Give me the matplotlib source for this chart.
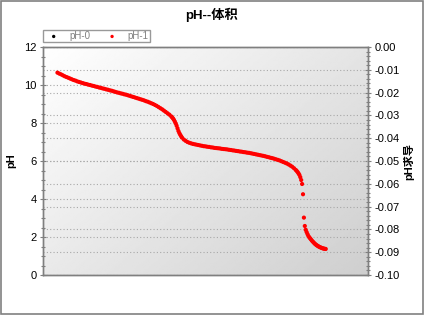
import numpy as np
import matplotlib
matplotlib.use("Agg")
import matplotlib.pyplot as plt
from matplotlib.ticker import MultipleLocator, FuncFormatter
from matplotlib.patches import Rectangle

plt.rcParams['font.family'] = ['Liberation Sans', 'Noto Sans CJK SC', 'DejaVu Sans']
plt.rcParams['axes.unicode_minus'] = False

title = "pH--体积"
xlabel = "溶液体积/ml"
ylabel_left = "pH"
ylabel_right = "pH求导"
series0_label = "pH-0"
series1_label = "pH-1"

volume = [0.8, 0.9, 1.0, 1.1, 1.2, 1.3, 1.4, 1.5, 1.6, 1.7, 1.8, 1.9, 2.0, 2.1, 2.2, 2.3,
          2.4, 2.5, 2.6, 2.7, 2.8, 2.9, 3.0, 3.1, 3.2, 3.3, 3.4, 3.5, 3.6, 3.7, 3.8, 3.9,
          4.0, 4.1, 4.2, 4.3, 4.4, 4.5, 4.6, 4.7, 4.8, 4.9, 5.0, 5.1, 5.2, 5.3, 5.4, 5.5,
          5.6, 5.7, 5.8, 5.9, 6.0, 6.1, 6.2, 6.3, 6.4, 6.5, 6.6, 6.7, 6.8, 6.9, 7.0,
          7.1, 7.15, 7.2, 7.25, 7.3, 7.35, 7.4, 7.45, 7.5, 7.55, 7.6, 7.65, 7.7, 7.8, 7.9,
          8.0, 8.1, 8.2, 8.3, 8.4, 8.5, 8.6, 8.7, 8.8, 8.9, 9.0, 9.1, 9.2, 9.3, 9.4, 9.5,
          9.6, 9.7, 9.8, 9.9, 10.0, 10.1, 10.2, 10.3, 10.4, 10.5, 10.6, 10.7, 10.8, 10.9,
          11.0, 11.1, 11.2, 11.3, 11.4, 11.5, 11.6, 11.7, 11.8, 11.9, 12.0, 12.1, 12.2,
          12.3, 12.4, 12.5, 12.6, 12.7, 12.8, 12.9, 13.0, 13.1, 13.2, 13.3, 13.4, 13.5,
          13.6, 13.7, 13.8, 13.9, 14.0, 14.05, 14.1, 14.15, 14.2, 14.25, 14.3, 14.35, 14.4,
          14.45, 14.5, 14.55, 14.6, 14.65, 14.7, 14.75, 14.8, 14.85, 14.9, 14.95, 15.0,
          15.05, 15.1, 15.15, 15.2, 15.25, 15.3, 15.35, 15.4, 15.45, 15.5, 15.55, 15.6, 15.66]
ph1 = [10.65, 10.60, 10.56, 10.51, 10.46, 10.42, 10.38, 10.34, 10.30, 10.26, 10.23, 10.19,
       10.16, 10.13, 10.10, 10.07, 10.05, 10.02, 10.00, 9.97, 9.95, 9.92, 9.90, 9.87, 9.85,
       9.82, 9.80, 9.77, 9.75, 9.72, 9.70, 9.67, 9.64, 9.61, 9.59, 9.56, 9.54, 9.51, 9.49,
       9.46, 9.43, 9.40, 9.37, 9.34, 9.31, 9.28, 9.25, 9.22, 9.19, 9.15, 9.12, 9.08, 9.04,
       9.00, 8.95, 8.90, 8.84, 8.78, 8.72, 8.65, 8.58, 8.51, 8.44,
       8.35, 8.30, 8.24, 8.17, 8.08, 7.98, 7.86, 7.72, 7.58, 7.47, 7.38, 7.30, 7.23, 7.13,
       7.06, 7.00, 6.96, 6.93, 6.90, 6.88, 6.86, 6.84, 6.82, 6.80, 6.78, 6.77, 6.75, 6.74,
       6.72, 6.71, 6.69, 6.68, 6.67, 6.66, 6.64, 6.63, 6.62, 6.61, 6.59, 6.58, 6.56, 6.55,
       6.53, 6.52, 6.50, 6.49, 6.47, 6.46, 6.44, 6.43, 6.41, 6.39, 6.37, 6.35, 6.33, 6.31,
       6.29, 6.27, 6.25, 6.22, 6.20, 6.17, 6.15, 6.12, 6.09, 6.06, 6.03, 5.99, 5.95, 5.91,
       5.87, 5.82, 5.76, 5.70, 5.62, 5.53, 5.48, 5.42, 5.35, 5.27, 5.15, 5.00, 4.79, 4.25,
       3.02, 2.58, 2.38, 2.26, 2.15, 2.05, 1.98, 1.92, 1.86, 1.80, 1.75, 1.70, 1.65, 1.61,
       1.57, 1.54, 1.51, 1.48, 1.46, 1.44, 1.42, 1.40, 1.39, 1.38, 1.37]
volume0 = []
ph0 = []

fig = plt.figure(figsize=(4.24, 3.15), dpi=100)
fig.patch.set_facecolor('white')
L, R, B, T = 43 / 424, 368 / 424, 1 - 275 / 315, 1 - 47 / 315
ax2 = fig.add_axes([L, B, R - L, T - B])
ax = ax2.twinx()
ax.yaxis.tick_left()
ax.yaxis.set_label_position('left')
ax2.yaxis.tick_right()
ax2.yaxis.set_label_position('right')
ax.set_zorder(ax2.get_zorder() + 1)
ax.patch.set_visible(False)

gx, gy = np.meshgrid(np.linspace(0, 1, 200), np.linspace(0, 1, 200))
grad = 1.0 - 0.19 * (gx * 0.55 + gy * 0.45)
ax2.imshow(grad, extent=(0, 1, 0, 1), transform=ax2.transAxes, cmap='gray',
           vmin=0, vmax=1, aspect='auto', origin='upper', zorder=0, interpolation='bilinear')

gc = '#a8a8a8'
ax2.set_xlim(0, 18)
ax2.set_ylim(-0.10, 0.0)
ax.set_xlim(0, 18)
ax.set_ylim(0, 12)

h1 = ax.scatter(volume, ph1, s=9, color='#ff0000', edgecolors='none', label=series1_label, zorder=3)
h0 = ax2.scatter(volume0, ph0, s=9, color='black', edgecolors='none', label=series0_label)

ax.xaxis.set_major_locator(MultipleLocator(5))
ax.xaxis.set_minor_locator(MultipleLocator(1))
ax2.xaxis.set_major_locator(MultipleLocator(5))
ax2.xaxis.set_minor_locator(MultipleLocator(1))
ax.yaxis.set_major_locator(MultipleLocator(2))
ax.yaxis.set_minor_locator(MultipleLocator(0.5))
ax2.yaxis.set_major_locator(MultipleLocator(0.01))
ax2.yaxis.set_minor_locator(MultipleLocator(0.002))
ax2.yaxis.set_major_formatter(FuncFormatter(lambda v, p: "%.2f" % (0.0 if abs(v) < 1e-9 else v)))

ax.grid(True, which='major', axis='both', color=gc, linestyle=(0, (1, 2)), linewidth=0.8)
ax2.grid(True, which='major', axis='y', color=gc, linestyle=(0, (1, 2)), linewidth=0.8, zorder=1)
ax2.set_axisbelow(False)

sc = '#7f7f7f'
for a in (ax, ax2):
    for s in a.spines.values():
        s.set_color(sc)
        s.set_linewidth(1.0)
ax.tick_params(axis='both', which='major', direction='inout', length=5, width=0.8, color=sc,
               labelsize=8, labelcolor='black', pad=2)
ax.tick_params(axis='both', which='minor', direction='inout', length=3, width=0.8, color=sc)
ax.tick_params(axis='x', which='both', top=True, labeltop=False)
ax2.tick_params(axis='y', which='major', direction='inout', length=5, width=0.8, color=sc,
                labelsize=8, labelcolor='black', pad=2)
ax2.tick_params(axis='y', which='minor', direction='inout', length=3, width=0.8, color=sc)
ax2.tick_params(axis='x', which='both', bottom=False, labelbottom=False)

ax.set_xlabel(xlabel, fontsize=8, fontweight='bold', labelpad=2)
ax.set_ylabel(ylabel_left, fontsize=8, fontweight='bold', labelpad=6)
ax2.set_ylabel(ylabel_right, fontsize=8, fontweight='bold', labelpad=3)

fig.text(0.5, 1 - 15 / 315, title, ha='center', va='center', fontsize=9.5, fontweight='bold')

leg = ax.legend([h0, h1], [series0_label, series1_label], loc='lower left',
                bbox_to_anchor=(0.0, 1.022, 0.328, 0.047), mode='expand', ncol=2,
                fontsize=7, labelcolor='#808080', frameon=True, fancybox=False,
                edgecolor='#808080', borderpad=0.1, handletextpad=0.6, columnspacing=0.8,
                markerscale=0.8, handlelength=2.0, borderaxespad=0)
leg.get_frame().set_linewidth(1.0)

fig.add_artist(Rectangle((0.002, 0.003), 0.995, 0.994, transform=fig.transFigure,
                         fill=False, edgecolor='#808080', linewidth=1.2))

fig.savefig('out.png', dpi=100)
